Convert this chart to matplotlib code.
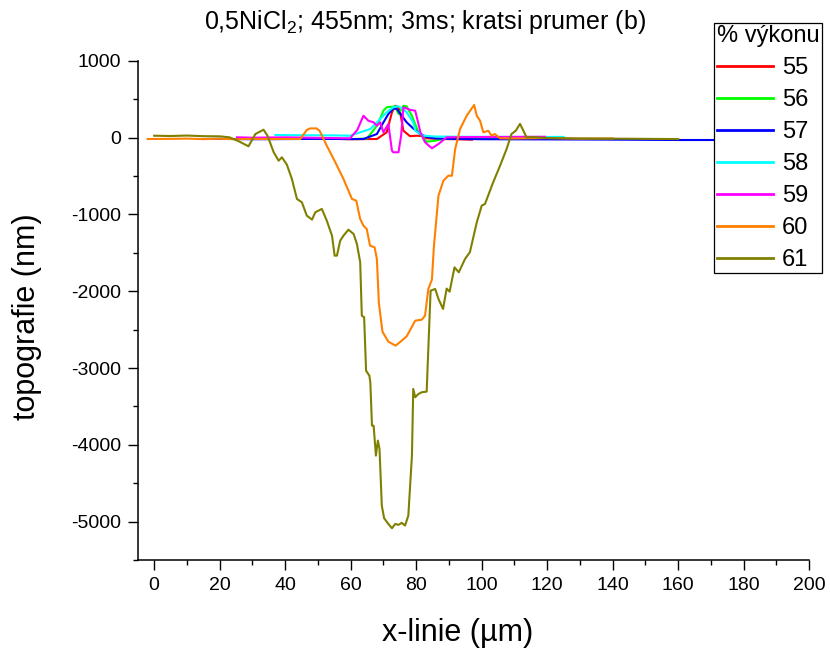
import matplotlib
matplotlib.use('Agg')
import matplotlib.pyplot as plt
from matplotlib.ticker import MultipleLocator

plt.rcParams['font.family'] = ['Liberation Sans', 'DejaVu Sans']
plt.rcParams['mathtext.fontset'] = 'custom'
plt.rcParams['mathtext.rm'] = 'Liberation Sans'
plt.rcParams['axes.unicode_minus'] = False

# ---- data: x (µm) and topography (nm) per laser power ----
x55 = [49.7, 55, 60, 65, 68, 71, 72.6, 73.6, 74.6, 75.1, 76.1, 78.1, 80.2, 82, 83.2, 87.3, 92, 97]
y55 = [-17, -15, -20, -18, -17, 70, 330, 416, 396, 330, 91, 20, 26, 20, -8, -17, -20, -26]

x56 = [45, 52, 61, 65, 68, 70, 71, 73.6, 74.6, 76.1, 77.1, 78.7, 80.7, 83.2, 85.8, 88.3, 95, 105, 118]
y56 = [-15, -12, -17, -10, 156, 351, 396, 408, 308, 416, 408, 286, 70, -52, -39, -17, -12, -15, -10]

x57 = [14.6, 20, 30, 40, 50, 60, 63.9, 68, 70, 71.5, 73, 74.1, 75.6, 77.1, 79.1, 81.2, 83.2,
       86, 90, 100, 120, 140, 160, 175]
y57 = [-17, -15, -20, -18, -15, -18, -17, 48, 200, 308, 382, 374, 286, 200, 120, 50, 10,
       -10, -15, -20, -22, -25, -30, -30]

x58 = [37, 45, 55, 59.8, 66, 69, 71, 73, 74.5, 76.1, 77.1, 79.1, 79.7, 82.2, 86, 95, 110, 125]
y58 = [35, 32, 30, 26, 113, 243, 330, 396, 410, 370, 330, 200, 91, 26, 15, 12, 10, 10]

x59 = [25.3, 30, 40, 50, 59.8, 62, 63.9, 65.4, 67, 68, 69, 70, 71.5, 72.6, 73, 74.6, 75.4,
       76.1, 78.1, 79.7, 80.2, 81.3, 82.7, 84.8, 86.8, 89.3, 95, 105, 119.3]
y59 = [5, 0, 5, -2, -8, 100, 286, 221, 200, 156, 200, 70, 178, -169, -190, -190, 30,
       396, 364, 351, 265, 70, -60, -138, -82, 5, 8, 10, 12]

x60 = [-2, 5, 10, 15, 20, 25, 30, 35, 40, 44.6, 46.6, 47.5, 49.5, 50.5, 52.7, 55.3, 57.8,
       60.4, 61.7, 62.9, 63.9, 64.9, 65.9, 67.3, 68.0, 68.6, 69.7, 71.5, 73.7, 75.6, 77.1,
       79.7, 81.7, 82.7, 83.7, 84.8, 85.4, 86.8, 88.3, 89.8, 90.9, 91.9, 93.4, 95.4, 97.7,
       98.5, 99.5, 100.5, 102, 103, 104, 105.6, 110, 120, 130, 140]
y60 = [-17, -15, -12, -18, -14, -20, -15, -18, -16, -17, 100, 120, 122, 91, -104, -320, -538,
       -798, -820, -1059, -1146, -1189, -1406, -1427, -1579, -2150, -2526, -2656, -2708, -2643, -2586,
       -2383, -2370, -2318, -1970, -1849, -1420, -755, -560, -495, -495, -147, 113, 286, 426,
       286, 221, 70, 91, 26, 48, -8, -10, -5, -12, -10]

x61 = [0, 5, 10, 15, 20, 23, 26, 28.8, 30.9, 33.4, 34.6, 36.5, 38, 39, 40.5, 42, 43.6, 45.1,
       46.6, 48.2, 49.2, 51.2, 52.7, 54.3, 55.1, 55.8, 56.8, 57.8, 59.3, 60.9, 61.9, 62.9,
       63.4, 64.1, 64.7, 65.7, 66.0, 66.5, 67.0, 67.7, 68.3, 68.8, 69.5, 70.2, 71.5, 72.6,
       73.6, 74.6, 75.6, 76.6, 77.6, 78.7, 79.1, 79.7, 80.7, 81.7, 83.2, 83.7, 84.4, 85.8,
       86.8, 88.2, 89.3, 90.2, 91.7, 93.0, 94.9, 96.4, 98.5, 100.0, 101.0, 103.5, 105.6,
       107.6, 109.1, 110.4, 111.7, 113.7, 116, 120, 130, 140, 150, 160]
y61 = [26, 22, 28, 20, 18, 5, -50, -112, 48, 104, 26, -190, -300, -255, -350, -530, -798, -841,
       -1015, -1067, -971, -928, -1080, -1276, -1536, -1536, -1341, -1276, -1198, -1254, -1384, -1622,
       -2318, -2338, -3034, -3099, -3185, -3750, -3750, -4140, -3945, -4053, -4791, -4955, -5030, -5086,
       -5030, -5042, -5016, -5051, -4921, -4140, -3272, -3380, -3337, -3315, -3307, -2751, -1992, -1970,
       -2100, -2230, -1965, -2005, -1688, -1753, -1580, -1490, -1102, -885, -863, -581, -365,
       -147, 48, 91, 180, 5, 8, -5, -10, -12, -15, -18]

labels = ['55', '56', '57', '58', '59', '60', '61']
colors = ['#FF0000', '#00FF00', '#0000FF', '#00FFFF', '#FF00FF', '#FF8000', '#808000']
series = [(x55, y55), (x56, y56), (x57, y57), (x58, y58), (x59, y59), (x60, y60), (x61, y61)]

fig = plt.figure(figsize=(8.3, 6.55), dpi=100)
ax = fig.add_axes([0.166, 0.145, 0.809, 0.762])

for (xs, ys), lab, c in zip(series, labels, colors):
    ax.plot(xs, ys, color=c, lw=1.5, label=lab)

ax.set_xlim(-5, 200)
ax.set_ylim(-5500, 1000)
ax.xaxis.set_major_locator(MultipleLocator(20))
ax.xaxis.set_minor_locator(MultipleLocator(10))
ax.yaxis.set_major_locator(MultipleLocator(1000))
ax.yaxis.set_minor_locator(MultipleLocator(500))
ax.tick_params(which='major', direction='out', length=7, width=1, labelsize=14, pad=5)
ax.tick_params(which='minor', direction='out', length=3.6, width=1)
ax.spines['top'].set_visible(False)
ax.spines['right'].set_visible(False)
ax.spines['left'].set_linewidth(1.1)
ax.spines['bottom'].set_linewidth(1.1)

fig.text(425 / 830, 1 - 22 / 655, r'0,5NiCl$_2$; 455nm; 3ms; kratsi prumer (b)',
         ha='center', va='center', fontsize=18)
fig.text(27.5 / 830, 1 - 317 / 655, 'topografie (nm)', rotation=90,
         ha='center', va='center', fontsize=22)
fig.text(458 / 830, 1 - 633 / 655, 'x-linie (µm)', ha='center', va='center', fontsize=22)

leg = ax.legend(title='% výkonu', loc='upper right',
                bbox_to_anchor=(821.7 / 830, 1 - 23 / 655), bbox_transform=fig.transFigure,
                fontsize=17, title_fontsize=17, frameon=True, fancybox=False,
                framealpha=1, edgecolor='black', borderpad=0.1, borderaxespad=0,
                handlelength=2.4, handletextpad=0.36, labelspacing=0.42,
                alignment='left')
leg.get_frame().set_linewidth(0.9)
for line in leg.get_lines():
    line.set_linewidth(2)

fig.savefig('out.png', dpi=100, facecolor='white')
